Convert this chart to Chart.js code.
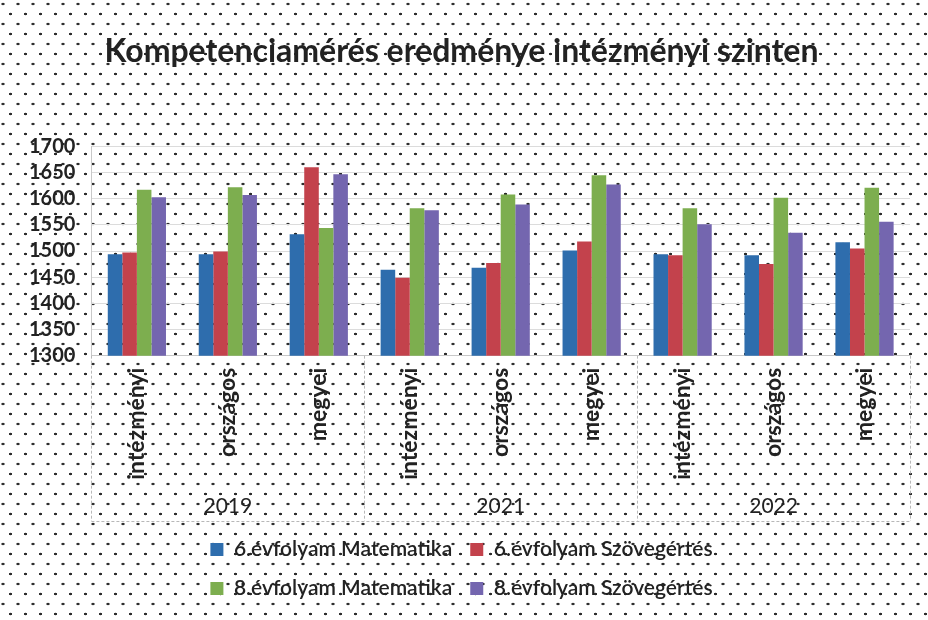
<!DOCTYPE html>
<html>
<head>
<meta charset="utf-8">
<title>Kompetenciamérés</title>
<script src="https://cdn.jsdelivr.net/npm/chart.js@4.4.1/dist/chart.umd.min.js"></script>
<style>
  html, body {
    margin: 0;
    padding: 0;
    background-color: #fff;
    background-image:
      radial-gradient(circle, #2a2a2a 1.1px, transparent 1.6px),
      radial-gradient(circle, #2a2a2a 1.1px, transparent 1.6px);
    background-size: 15px 20px, 15px 20px;
    background-position: 3px 4px, 10.5px 14px;
  }
  #wrap { width: 928px; height: 620px; position: relative; }
</style>
</head>
<body>
<div id="wrap"><canvas id="graficoKompetencia"></canvas></div>
<script>
// adatok
const kategoriak = ['intézményi', 'országos', 'megyei', 'intézményi', 'országos', 'megyei', 'intézményi', 'országos', 'megyei'];
const evek = ['2019', '2021', '2022'];
const yTicks = [1300, 1350, 1400, 1450, 1500, 1550, 1600, 1650, 1700];

const mat6 = [1494, 1494, 1532, 1464, 1468, 1501, 1494, 1492, 1517];
const szov6 = [1497, 1499, 1660, 1449, 1477, 1518, 1492, 1475, 1505];
const mat8 = [1617, 1622, 1544, 1582, 1608, 1645, 1582, 1602, 1621];
const szov8 = [1603, 1607, 1647, 1578, 1589, 1627, 1551, 1535, 1556];

const betu = 'Lato, "Open Sans", sans-serif';

// ket sorba tordeli a jelmagyarazatot
const legendWrap = {
  id: 'legendWrap',
  beforeLayout(chart) {
    const lg = chart.legend;
    if (lg && !lg._wrapped) {
      const upd = lg.update;
      lg.update = function (maxWidth, maxHeight, margins) {
        return upd.call(this, Math.min(maxWidth, 600), maxHeight, margins);
      };
      lg._wrapped = true;
    }
  }
};

// evek kozotti elvalaszto vonalak
const csoportVonalak = {
  id: 'csoportVonalak',
  afterDraw(chart) {
    const x = chart.scales.x;
    const x2 = chart.scales.x2;
    const ctx = chart.ctx;
    const step = (x.right - x.left) / kategoriak.length;
    ctx.save();
    ctx.strokeStyle = '#b8b8b8';
    ctx.lineWidth = 1;
    ctx.setLineDash([3, 2]);
    for (let i = 0; i <= kategoriak.length; i += 3) {
      const px = Math.round(x.left + i * step) + 0.5;
      ctx.beginPath();
      ctx.moveTo(px, chart.chartArea.bottom);
      ctx.lineTo(px, x2.bottom);
      ctx.stroke();
    }
    ctx.beginPath();
    ctx.moveTo(x.left, Math.round(x2.bottom) + 0.5);
    ctx.lineTo(x.right, Math.round(x2.bottom) + 0.5);
    ctx.stroke();
    ctx.restore();
  }
};

const ctx = document.getElementById('graficoKompetencia');
new Chart(ctx, {
  type: 'bar',
  data: {
    labels: kategoriak,
    datasets: [{
      label: '6.évfolyam Matematika',
      data: mat6,
      backgroundColor: '#2E6DAD'
    }, {
      label: '6.évfolyam Szövegértés',
      data: szov6,
      backgroundColor: '#C3424C'
    }, {
      label: '8.évfolyam Matematika',
      data: mat8,
      backgroundColor: '#7DAE4F'
    }, {
      label: '8.évfolyam Szövegértés',
      data: szov8,
      backgroundColor: '#7466AF'
    }]
  },
  options: {
    responsive: true,
    maintainAspectRatio: false,
    animation: false,
    categoryPercentage: 0.64,
    barPercentage: 1.0,
    layout: {
      padding: { left: 13, right: 18, top: 0, bottom: 11 }
    },
    plugins: {
      title: {
        display: true,
        text: 'Kompetenciamérés eredménye intézményi szinten',
        color: '#222',
        font: { family: betu, size: 32, weight: 'bold' },
        padding: { top: 32, bottom: 76 }
      },
      legend: {
        position: 'bottom',
        labels: {
          color: '#222',
          font: { family: betu, size: 21, weight: '600' },
          boxWidth: 13,
          boxHeight: 13,
          padding: 18
        }
      },
      tooltip: { enabled: false }
    },
    scales: {
      y: {
        min: 1300,
        max: 1700,
        afterBuildTicks: function (scale) {
          scale.ticks = yTicks.map(v => ({ value: v }));
        },
        grid: { color: '#dcdcdc', drawTicks: false },
        border: { display: true, color: '#c8c8c8' },
        ticks: {
          color: '#222',
          padding: 16,
          autoSkip: false,
          font: { family: betu, size: 20, weight: 'bold' },
          callback: function (value) {
            return String(value);
          }
        }
      },
      x: {
        grid: { display: false },
        border: { display: true, color: '#c8c8c8' },
        ticks: {
          color: '#222',
          minRotation: 90,
          maxRotation: 90,
          padding: 4,
          autoSkip: false,
          font: { family: betu, size: 23, weight: 'bold' }
        }
      },
      x2: {
        type: 'category',
        position: 'bottom',
        labels: evek,
        offset: true,
        grid: { display: false },
        border: { display: false },
        ticks: {
          color: '#222',
          padding: 2,
          font: { family: betu, size: 21 }
        }
      }
    }
  },
  plugins: [legendWrap, csoportVonalak]
});
</script>
</body>
</html>
